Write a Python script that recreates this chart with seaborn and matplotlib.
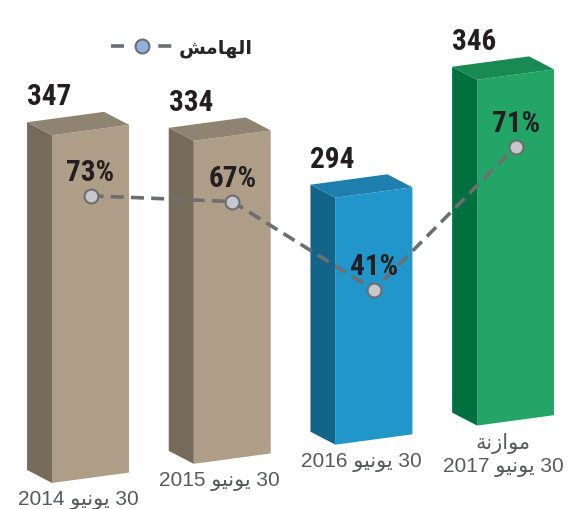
import numpy as np
import matplotlib
matplotlib.use('Agg')
import matplotlib.pyplot as plt
import seaborn as sns
from matplotlib import font_manager
from matplotlib.patches import Polygon
from matplotlib.path import Path
from matplotlib.lines import Line2D
from matplotlib.transforms import Affine2D, IdentityTransform

# 数据
categories = ['30 يونيو 2014', '30 يونيو 2015', '30 يونيو 2016', 'موازنة\n30 يونيو 2017']
values = [347, 334, 294, 346]
margins = [73, 67, 41, 71]
margin_labels = ['73%', '67%', '41%', '71%']
legend_label = 'الهامش'

front_colors = ['#AE9E88', '#AE9E88', '#2196CB', '#22A566']
side_colors = ['#766B5B', '#766B5B', '#126488', '#00703F']
top_colors = ['#8F8372', '#8F8372', '#1E7FAE', '#1A8A55']

# matplotlib 不做阿拉伯文连字和从右到左排版, 这里手动处理
ARABIC = {'ا': (0xFE8D, 2), 'ل': (0xFEDD, 4), 'ه': (0xFEE9, 4), 'م': (0xFEE1, 4),
          'ش': (0xFEB5, 4), 'ي': (0xFEF1, 4), 'و': (0xFEED, 2), 'ن': (0xFEE5, 4),
          'ز': (0xFEAF, 2), 'ة': (0xFE93, 2)}


def shape_word(w):
    out = []
    for i, ch in enumerate(w):
        start, n = ARABIC[ch]
        prev = w[i - 1] if i > 0 else None
        nxt = w[i + 1] if i + 1 < len(w) else None
        jp = prev in ARABIC and ARABIC[prev][1] == 4
        jn = n == 4 and nxt in ARABIC
        idx = 3 if (jp and jn) else 1 if jp else 2 if jn else 0
        out.append(chr(start + idx))
    return ''.join(out[::-1])


def rtl(text):
    lines = []
    for line in text.split('\n'):
        toks = [shape_word(t) if t[0] in ARABIC else t for t in line.split(' ')]
        lines.append(' '.join(toks[::-1]))
    return '\n'.join(lines)


sns.set_theme(style='white')
plt.rcParams['font.family'] = ['Liberation Sans', 'DejaVu Sans']

# 找一个窄体粗字体给数字用
fonts = font_manager.fontManager.ttflist
names = {f.name for f in fonts}
num_font = dict(family=['Liberation Sans', 'DejaVu Sans'], fontsize=19)
for n in ['Roboto Condensed', 'Liberation Sans Narrow', 'Open Sans Condensed', 'DejaVu Sans Condensed']:
    if n in names:
        num_font = dict(family=[n, 'DejaVu Sans'], fontsize=21)
        break
else:
    if any(f.name == 'DejaVu Sans' and f.stretch == 'condensed' for f in fonts):
        num_font = dict(family=['DejaVu Sans'], fontstretch='condensed', fontsize=21)

fig = plt.figure(figsize=(5.71, 5.10), dpi=100)
ax = fig.add_axes([0, 0, 1, 1])
sns.barplot(x=categories, y=values, hue=categories, palette=front_colors, legend=False,
            width=0.543, linewidth=0, saturation=1, ax=ax)

ax2 = ax.twinx()
sns.lineplot(x=np.arange(len(margins)), y=margins, ax=ax2, color='#6D6E71', linewidth=2.6,
             linestyle=(0, (3.6, 2.0)), marker='o', markersize=10,
             markerfacecolor='#C7C8CA', markeredgecolor='#6D6E71', markeredgewidth=1.5)

ax.set_xlim(-0.639, 3.391)
ax.set_ylim(150.3, 418.7)
ax2.set_ylim(-1.4, 121.8)
ax.axis('off')
ax2.axis('off')

# 斜切变换, 让柱子有透视效果
base = 164
skew = Affine2D().translate(-52, 0).skew(0, np.arctan(0.135)).translate(52, 0)
T1 = ax.transData + skew
T2 = ax2.transData + skew
clip = Path([(-1, base), (5, base), (5, 1000), (-1, 1000), (-1, base)])
depth = np.array([-25, 13])

bars = list(ax.patches)
for i, p in enumerate(bars):
    p.set_transform(T1)
    p.set_clip_path(clip, T1)
    x0 = p.get_x()
    x1 = x0 + p.get_width()
    top = p.get_height()
    fb, ft, rt = T1.transform([(x0, base), (x0, top), (x1, top)])
    ax.add_patch(Polygon([fb, ft, ft + depth, fb + depth], closed=True,
                         transform=IdentityTransform(), facecolor=side_colors[i], lw=0))
    ax.add_patch(Polygon([ft, rt, rt + depth, ft + depth], closed=True,
                         transform=IdentityTransform(), facecolor=top_colors[i], lw=0))
    # 数值
    ax.annotate(str(values[i]), xy=(x0, top), xycoords=T1, xytext=(-25, 31),
                textcoords='offset pixels', ha='left', va='baseline',
                fontweight='bold', color='#231F20', **num_font)
    # 类别
    ax.annotate(rtl(categories[i]), xy=((x0 + x1) / 2, base), xycoords=T1, xytext=(-12.5, -12),
                textcoords='offset pixels', ha='center', va='top', fontsize=15,
                color='#58595B', linespacing=1.2, multialignment='center')

for l in ax2.lines:
    l.set_transform(T2)
for i, m in enumerate(margins):
    ax2.annotate(margin_labels[i], xy=(i, m), xycoords=T2, xytext=(0, 16),
                 textcoords='offset pixels', ha='center', va='baseline',
                 fontweight='bold', color='#231F20', **num_font)

handle = Line2D([], [], color='#6D6E71', lw=2.6, dashes=(3.6, 9.5), marker='o', ms=10,
                mfc='#8FB3DE', mec='#6D6E71', mew=1.5)
fig.legend([handle], [rtl(legend_label)], loc='center left', bbox_to_anchor=(101 / 571, 1 - 49 / 510),
           frameon=False, borderpad=0, handlelength=3.2, handletextpad=0.3,
           prop={'weight': 'bold', 'size': 14, 'family': ['Liberation Sans', 'DejaVu Sans']})

fig.savefig('out.png', dpi=100)
